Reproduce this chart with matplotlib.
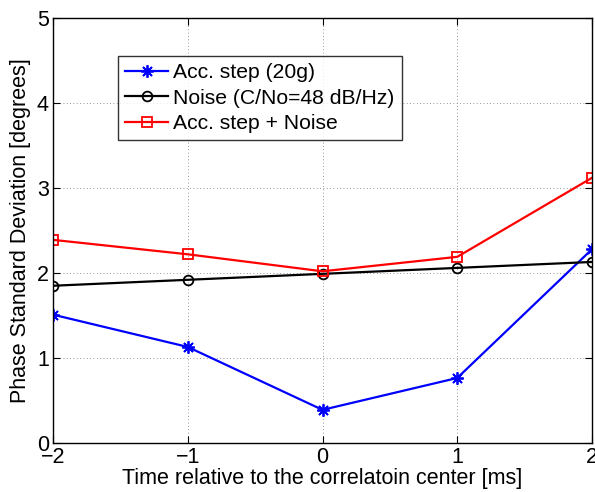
import matplotlib
matplotlib.use('Agg')
import matplotlib.pyplot as plt

plt.rcParams['font.family'] = ['Liberation Sans', 'DejaVu Sans']

x = [-2, -1, 0, 1, 2]
acc_step = [1.51, 1.13, 0.39, 0.765, 2.28]
noise = [1.85, 1.92, 1.99, 2.06, 2.13]
acc_noise = [2.39, 2.22, 2.02, 2.19, 3.12]

labels = ['Acc. step (20g)', 'Noise (C/No=48 dB/Hz)', 'Acc. step + Noise']

fig = plt.figure(figsize=(5.95, 4.92), dpi=100)
ax = fig.add_axes([53/595, 1 - 443/492, (592-53)/595, (443-18)/492])

ax.plot(x, acc_step, '-', color='#0000ff', lw=1.6, marker=(8, 2, 0), ms=9,
        mfc='none', mec='#0000ff', mew=1.3, label=labels[0])
ax.plot(x, noise, '-', color='black', lw=1.6, marker='o', ms=7,
        mfc='none', mec='black', mew=1.3, label=labels[1])
ax.plot(x, acc_noise, '-', color='#ff0000', lw=1.6, marker='s', ms=7,
        mfc='none', mec='#ff0000', mew=1.3, label=labels[2])

ax.set_xlim(-2, 2)
ax.set_ylim(0, 5)
ax.set_xticks([-2, -1, 0, 1, 2])
ax.set_yticks([0, 1, 2, 3, 4, 5])
ax.set_xticklabels(['\u22122', '\u22121', '0', '1', '2'])
ax.tick_params(direction='in', top=True, right=True, length=5, labelsize=15.5, pad=3)
ax.grid(True, linestyle=(0, (1, 3)), color='#777777', lw=0.6)
for s in ax.spines.values():
    s.set_linewidth(1.0)

ax.set_xlabel('Time relative to the correlatoin center [ms]', fontsize=15.5, labelpad=0)
ax.set_ylabel('Phase Standard Deviation [degrees]', fontsize=15.5, labelpad=4)

leg = ax.legend(loc='upper left', bbox_to_anchor=((118-53)/539, 1 - (56-18)/425),
                fontsize=15.2, frameon=True, fancybox=False, edgecolor='black',
                handlelength=2.0, handletextpad=0.25, borderpad=0.35, labelspacing=0.3,
                borderaxespad=0)
leg.get_frame().set_linewidth(1.0)

plt.savefig('out.png', dpi=100)
